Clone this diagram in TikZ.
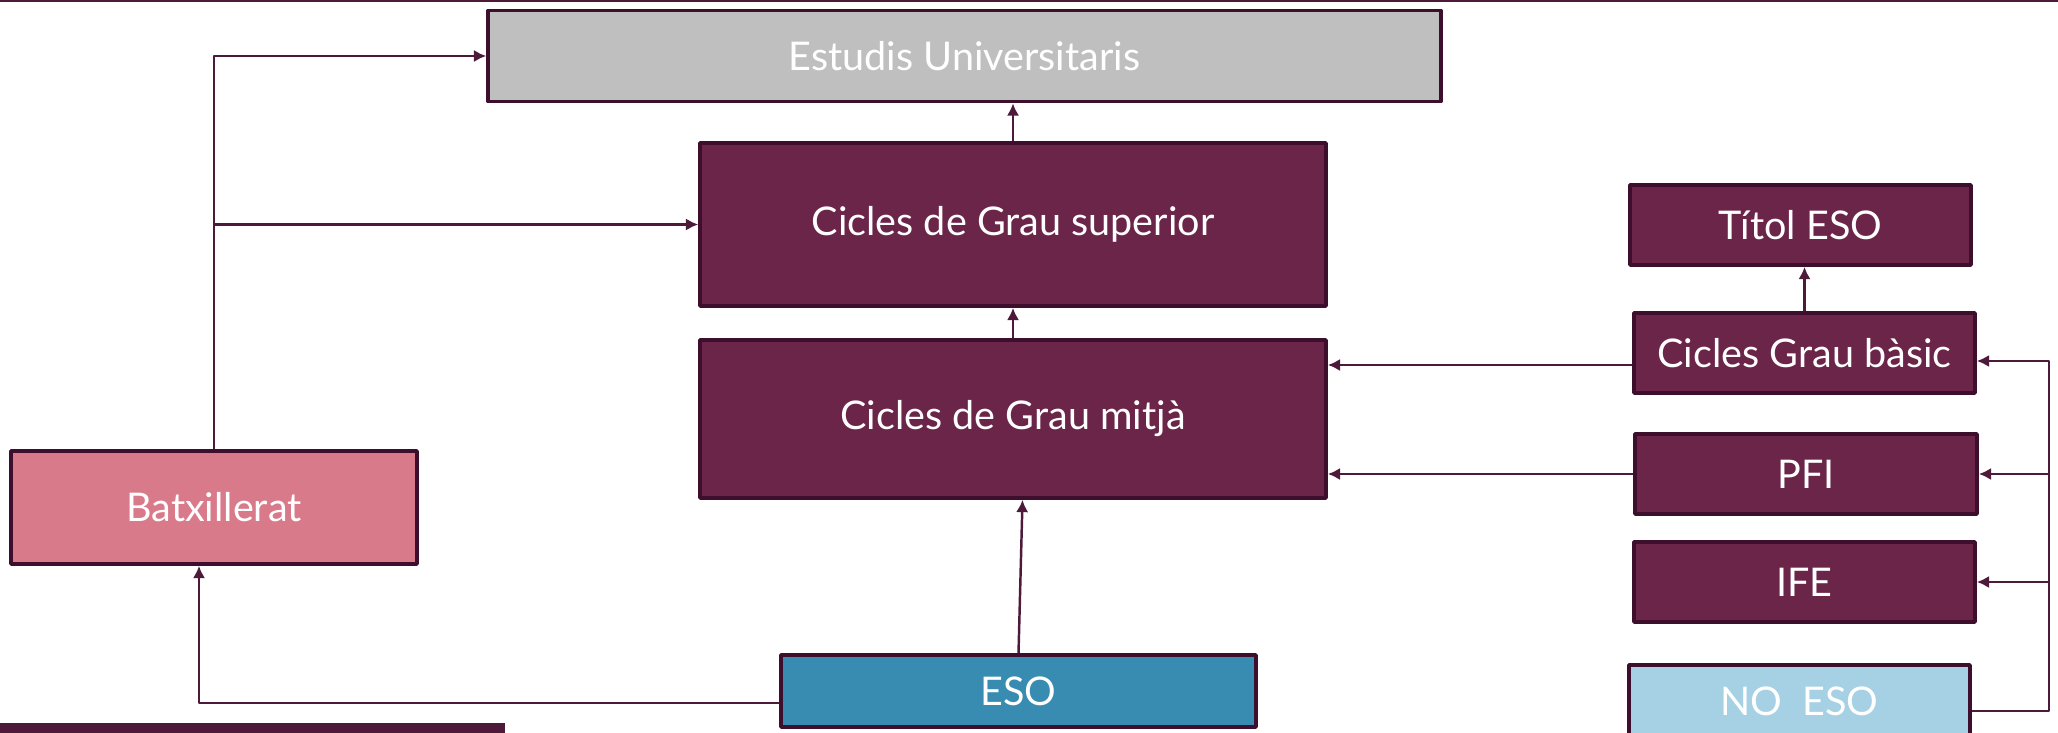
\documentclass[tikz,border=0pt]{standalone}
\usepackage{fontspec}
\setmainfont{Lato}
\usetikzlibrary{arrows.meta}
\definecolor{granate}{HTML}{6B2549}
\definecolor{vora}{HTML}{3E0F2C}
\definecolor{linia}{HTML}{4E1A3A}
\definecolor{gris}{HTML}{BFBFBF}
\definecolor{rosa}{HTML}{D97A8B}
\definecolor{blau}{HTML}{388CB1}
\definecolor{blauclar}{HTML}{A6D1E4}
\begin{document}
\begin{tikzpicture}[x=0.02cm, y=-0.02cm, line join=round, >={Latex[length=7pt,width=7pt]}]
	\tikzset{caixa/.style={draw=vora, line width=2.1pt, fill=granate, text=white, inner sep=0pt, font=\fontsize{22.5}{27}\selectfont},
		fletxa/.style={->, draw=linia, line width=1.4pt}}
	\useasboundingbox (0,0) rectangle (2058,733);
	\draw[linia, line width=1.4pt] (0,1)--(2058,1);
	\fill[linia] (0,723) rectangle (505,733);
	% caixes del centre
	\node[caixa, fill=gris, minimum width=19.06cm, minimum height=1.82cm] (estudis) at (964.5,56) {Estudis Universitaris};
	\node[caixa, minimum width=12.52cm, minimum height=3.26cm] (superior) at (1013,224.5) {Cicles de Grau superior};
	\node[caixa, minimum width=12.52cm, minimum height=3.16cm] (mitja) at (1013,419) {Cicles de Grau mitjà};
	\node[caixa, fill=rosa, minimum width=8.12cm, minimum height=2.26cm] (batx) at (214,507.5) {Batxillerat};
	\node[caixa, fill=blau, minimum width=9.5cm, minimum height=1.44cm] (eso) at (1018.5,691) {ESO};
	% caixes de la dreta
	\node[caixa, minimum width=6.82cm, minimum height=1.6cm] (titol) at (1800.5,225) {Títol ESO};
	\node[caixa, minimum width=6.82cm, minimum height=1.6cm] (basic) at (1804.5,353) {Cicles Grau bàsic};
	\node[caixa, minimum width=6.84cm, minimum height=1.6cm] (pfi) at (1806,474) {PFI};
	\node[caixa, minimum width=6.82cm, minimum height=1.6cm] (ife) at (1804.5,582) {IFE};
	\node[caixa, fill=blauclar, minimum width=6.82cm, minimum height=1.44cm] (noeso) at (1799.5,701) {NO\ \ ESO};
	\coordinate (bus) at (2049,0);
	% fletxes
	\draw[fletxa] (batx.north) |- (estudis.west);
	\draw[fletxa] (batx.north |- superior.west) -- (superior.west);
	\draw[fletxa] (superior.north) -- (superior.north |- estudis.south);
	\draw[fletxa] (mitja.north) -- (superior.south);
	\draw[fletxa] (eso.north) -- ([xshift=0.08cm]eso.north |- mitja.south);
	\draw[fletxa] ([yshift=-0.24cm]eso.west) -| ([xshift=-0.3cm]batx.south);
	\draw[fletxa] ([yshift=-0.24cm]basic.west) -- ([yshift=-0.24cm]basic.west -| mitja.east);
	\draw[fletxa] (pfi.west) -- (pfi.west -| mitja.east);
	\draw[fletxa] (basic.north) -- (basic.north |- titol.south);
	\draw[fletxa] ([yshift=-0.2cm]noeso.east) -| ([yshift=-0.16cm]bus |- basic.east) -- ([yshift=-0.16cm]basic.east);
	\draw[fletxa] (bus |- pfi.east) -- (pfi.east);
	\draw[fletxa] (bus |- ife.east) -- (ife.east);
\end{tikzpicture}
\end{document}
